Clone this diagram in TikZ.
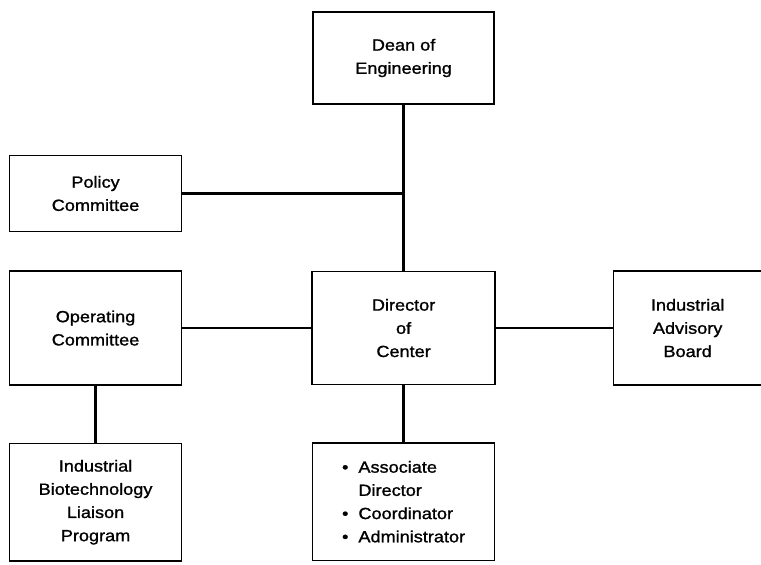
\documentclass[tikz,border=0pt]{standalone}
\usepackage{fontspec}
\setmainfont{Liberation Sans}[FakeStretch=1.12, FakeBold=1.2]
\usetikzlibrary{positioning}

\begin{document}
\begin{tikzpicture}[
            line width = 2pt, % connector lines
            node distance = 1cm % distance between boxes
        ]

        \tikzstyle{unit}=[
            draw,
            rectangle,
            line width = 1.1pt,
            align = center,
            fill = white,
            font = \fontsize{11.5}{16.5}\selectfont
        ]

        \useasboundingbox (0,0) rectangle (19.025,-14.125);

	% dean level
        \node[unit, minimum width=4.525cm, minimum height=2.3cm] (DE) at (10.09,-1.45) {Dean of\\Engineering};

	% director level
        \node[unit, minimum width=4.575cm, minimum height=2.825cm] (DC) [below=4.15cm of DE] {Director\\of\\Center};
        \node[unit, minimum width=4.3cm, minimum height=2.85cm] (OC) [left=3.225cm of DC] {Operating\\Committee};
        \node[unit, minimum width=3.7cm, minimum height=2.85cm] (IAB) [right=2.925cm of DC] {Industrial\\Advisory\\Board};

        \path[draw] (DE) -- (DC);
        \path[draw] (OC) -- (DC);
        \path[draw] (DC) -- (IAB);

	% policy
        \node[unit, minimum width=4.3cm, minimum height=1.9cm] (PC) [above=0.95cm of OC] {Policy\\Committee};

        \path[draw] (PC) -- (PC -| DE);

	% staff and programs
        \node[unit, minimum width=4.3cm, minimum height=2.93cm] (IBLP) [below=1.425cm of OC] {Industrial\\Biotechnology\\Liaison\\Program};
        \node[unit, minimum width=4.55cm, minimum height=2.93cm, align=left] (ST) [below=1.425cm of DC] {\textbullet\ \ Associate\\\phantom{\textbullet\ \ }Director\\\textbullet\ \ Coordinator\\\textbullet\ \ Administrator};

        \path[draw] (OC) -- (IBLP);
        \path[draw] (DC) -- (ST);

\end{tikzpicture}
\end{document}
